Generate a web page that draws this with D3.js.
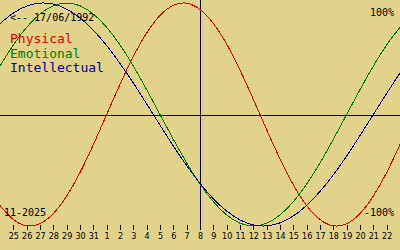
<!DOCTYPE html>
<html>
<head>
<meta charset="utf-8">
<script src="https://cdn.jsdelivr.net/npm/d3@7"></script>
<style>
  body { margin: 0; background: #e1d38a; }
  svg { display: block; }
</style>
</head>
<body>
<script>
// one value per day, 24/10/2025 .. 23/11/2025
const days = ["2025-10-24","2025-10-25","2025-10-26","2025-10-27","2025-10-28","2025-10-29","2025-10-30","2025-10-31",
  "2025-11-01","2025-11-02","2025-11-03","2025-11-04","2025-11-05","2025-11-06","2025-11-07","2025-11-08",
  "2025-11-09","2025-11-10","2025-11-11","2025-11-12","2025-11-13","2025-11-14","2025-11-15","2025-11-16",
  "2025-11-17","2025-11-18","2025-11-19","2025-11-20","2025-11-21","2025-11-22","2025-11-23"];

const physical = [-0.817,-0.942,-0.998,-0.979,-0.888,-0.731,-0.520,-0.270,0,0.270,0.520,0.731,0.888,0.979,0.998,0.942,
  0.817,0.631,0.398,0.136,-0.136,-0.398,-0.631,-0.817,-0.942,-0.998,-0.979,-0.888,-0.731,-0.520,-0.270];
const emotional = [0.434,0.624,0.782,0.901,0.975,1,0.975,0.901,0.782,0.624,0.434,0.223,0,-0.223,-0.434,-0.624,
  -0.782,-0.901,-0.975,-1,-0.975,-0.901,-0.782,-0.624,-0.434,-0.223,0,0.223,0.434,0.624,0.782];
const intellectual = [0.815,0.910,0.972,0.999,0.990,0.945,0.866,0.756,0.618,0.458,0.282,0.095,-0.095,-0.282,-0.458,-0.618,
  -0.756,-0.866,-0.945,-0.990,-0.999,-0.972,-0.910,-0.815,-0.690,-0.541,-0.372,-0.189,0,0.189,0.372];

const birthday = "17/06/1992";
const today = "2025-11-08";
const monthLabel = "11-2025";

const series = [
  { name: "Physical", values: physical, color: "#e00000" },
  { name: "Emotional", values: emotional, color: "#008000" },
  { name: "Intellectual", values: intellectual, color: "#000090" }
];

const W = 400, H = 250;
const parse = d3.utcParse("%Y-%m-%d");
const dates = days.map(parse);

const x = d3.scaleUtc().domain([dates[0], dates[dates.length - 1]]).range([0, W]);
const y = d3.scaleLinear().domain([-1, 1]).range([226, 3]);

const svg = d3.select("body").append("svg").attr("width", W).attr("height", H);

svg.append("rect").attr("width", W).attr("height", H).attr("fill", "#e1d38a");

// zero line
svg.append("line")
  .attr("x1", 0).attr("x2", W)
  .attr("y1", 115.5).attr("y2", 115.5)
  .attr("stroke", "#000").attr("shape-rendering", "crispEdges");

// today line
const tx = Math.round(x(parse(today))) + 0.5;
svg.append("line")
  .attr("x1", tx).attr("x2", tx)
  .attr("y1", 0).attr("y2", 230)
  .attr("stroke", "#000").attr("shape-rendering", "crispEdges");

// day ticks
const axis = d3.axisBottom(x)
  .tickValues(dates.slice(1, -1))
  .tickFormat(d3.utcFormat("%-d"))
  .tickSize(5)
  .tickPadding(3);

const g = svg.append("g").attr("transform", "translate(0,225)").call(axis);
g.select(".domain").remove();
g.selectAll("line").attr("stroke", "#000").attr("shape-rendering", "crispEdges");
g.selectAll("text")
  .attr("fill", "#000")
  .style("font-family", "DejaVu Sans")
  .style("font-size", "8px");

const line = d3.line()
  .x((d, i) => x(dates[i]))
  .y(d => y(d))
  .curve(d3.curveNatural);

svg.selectAll(".curve")
  .data(series)
  .enter()
    .append("path")
    .attr("class", "curve")
    .attr("d", d => line(d.values))
    .attr("fill", "none")
    .attr("stroke", d => d.color)
    .attr("stroke-width", 1)
    .attr("shape-rendering", "crispEdges");

// legend
svg.selectAll(".legend")
  .data(series)
  .enter()
    .append("text")
    .attr("x", 10)
    .attr("y", (d, i) => 43 + i * 14.5)
    .attr("fill", d => d.color)
    .style("font-family", "DejaVu Sans Mono")
    .style("font-size", "13px")
    .text(d => d.name);

const small = { "font-family": "DejaVu Sans Mono", "font-size": "10px" };

function label(txt, xx, yy, anchor) {
  svg.append("text")
    .attr("x", xx).attr("y", yy)
    .attr("text-anchor", anchor)
    .attr("fill", "#000")
    .style("font-family", small["font-family"])
    .style("font-size", small["font-size"])
    .text(txt);
}

label("<-- " + birthday, 10, 21, "start");
label("100%", 394, 16, "end");
label("-100%", 394, 216, "end");
label(monthLabel, 4, 216, "start");
</script>
</body>
</html>
